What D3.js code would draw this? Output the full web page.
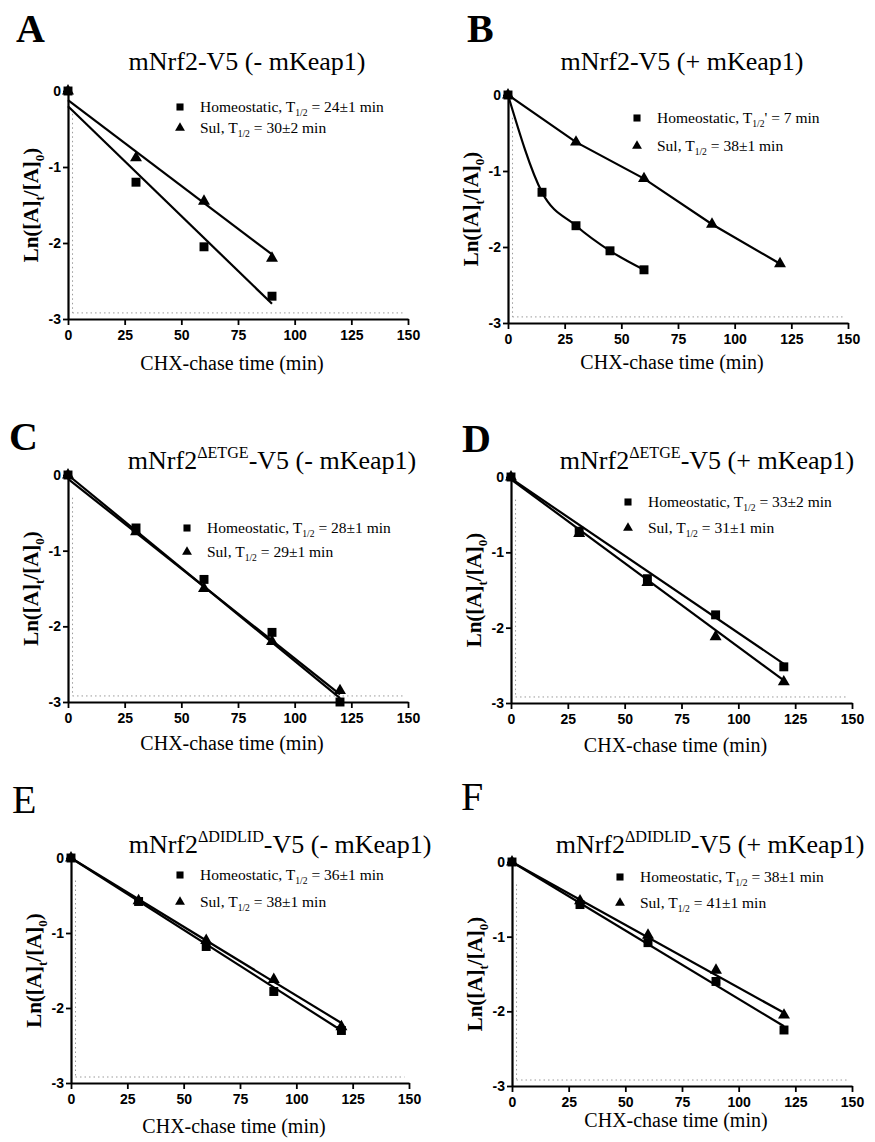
<!DOCTYPE html>
<html>
<head>
<meta charset="utf-8">
<script src="https://cdn.jsdelivr.net/npm/d3@7"></script>
<style>
  body { margin: 0; background: #fff; }
  svg { display: block; }
</style>
</head>
<body>
<script>
// shared axis values
const xTicks = [0, 25, 50, 75, 100, 125, 150];
const yTicks = [0, -1, -2, -3];

// A: mNrf2-V5 (- mKeap1)
const timesA = [0, 30, 60, 90];
const homeoA = [0, -1.2, -2.05, -2.7];
const sulA = [0, -0.88, -1.45, -2.2];
const homeoFitA = [[0, -0.2], [90, -2.8]];
const sulFitA = [[0, -0.12], [90, -2.15]];

// B: mNrf2-V5 (+ mKeap1)
const timesHomeoB = [0, 15, 30, 45, 60];
const homeoB = [0, -1.28, -1.72, -2.05, -2.3];
const timesSulB = [0, 30, 60, 90, 120];
const sulB = [0, -0.62, -1.1, -1.7, -2.22];

// C: mNrf2 dETGE (- mKeap1)
const timesC = [0, 30, 60, 90, 120];
const homeoC = [0, -0.7, -1.38, -2.08, -3.0];
const sulC = [0, -0.75, -1.5, -2.2, -2.85];
const homeoFitC = [[0, 0], [120, -2.95]];
const sulFitC = [[0, -0.05], [120, -2.9]];

// D: mNrf2 dETGE (+ mKeap1)
const timesD = [0, 30, 60, 90, 120];
const homeoD = [0, -0.72, -1.35, -1.83, -2.52];
const sulD = [0, -0.75, -1.4, -2.12, -2.72];
const homeoFitD = [[0, -0.02], [120, -2.48]];
const sulFitD = [[0, -0.03], [120, -2.7]];

// E: mNrf2 dDIDLID (- mKeap1)
const timesE = [0, 30, 60, 90, 120];
const homeoE = [0, -0.58, -1.18, -1.78, -2.3];
const sulE = [0, -0.57, -1.1, -1.62, -2.25];
const homeoFitE = [[0, 0], [120, -2.3]];
const sulFitE = [[0, 0], [120, -2.2]];

// F: mNrf2 dDIDLID (+ mKeap1)
const timesF = [0, 30, 60, 90, 120];
const homeoF = [0, -0.57, -1.08, -1.6, -2.25];
const sulF = [0, -0.52, -0.98, -1.45, -2.05];
const homeoFitF = [[0, 0], [120, -2.2]];
const sulFitF = [[0, 0], [120, -2.02]];

const legendHomeo = ["24±1 min", "7 min", "28±1 min", "33±2 min", "36±1 min", "38±1 min"];
const legendSul = ["30±2 min", "38±1 min", "29±1 min", "31±1 min", "38±1 min", "41±1 min"];

const zip = (xs, ys) => xs.map((t, i) => [t, ys[i]]);

const panels = [
  { label: "A", bold: true, title: [["mNrf2"], ["-V5 (- mKeap1)"]],
    box: { l: 68, r: 408, t: 91, b: 319 }, titleX: 247, titleY: 70, labelX: 16, labelY: 42,
    legX: 112, legY: 16, legGap: 21, xTitleDy: 51,
    homeo: zip(timesA, homeoA), sul: zip(timesA, sulA), homeoFit: homeoFitA, sulFit: sulFitA },
  { label: "B", bold: true, title: [["mNrf2"], ["-V5 (+ mKeap1)"]],
    box: { l: 508, r: 848, t: 95, b: 323 }, titleX: 682, titleY: 70, labelX: 467, labelY: 42,
    legX: 129, legY: 23, legGap: 28, xTitleDy: 46, prime: true,
    homeo: zip(timesHomeoB, homeoB), sul: zip(timesSulB, sulB), homeoCurve: true, sulCurve: true },
  { label: "C", bold: true, title: [["mNrf2"], ["ΔETGE", "sup"], ["-V5 (- mKeap1)"]],
    box: { l: 68, r: 408, t: 475, b: 702 }, titleX: 272, titleY: 469, labelX: 9, labelY: 450,
    legX: 119, legY: 53, legGap: 24, xTitleDy: 48,
    homeo: zip(timesC, homeoC), sul: zip(timesC, sulC), homeoFit: homeoFitC, sulFit: sulFitC },
  { label: "D", bold: true, title: [["mNrf2"], ["ΔETGE", "sup"], ["-V5 (+ mKeap1)"]],
    box: { l: 511, r: 852, t: 477, b: 703 }, titleX: 707, titleY: 469, labelX: 462, labelY: 452,
    legX: 117, legY: 25, legGap: 26, xTitleDy: 49,
    homeo: zip(timesD, homeoD), sul: zip(timesD, sulD), homeoFit: homeoFitD, sulFit: sulFitD },
  { label: "E", bold: false, title: [["mNrf2"], ["ΔDIDLID", "sup"], ["-V5 (- mKeap1)"]],
    box: { l: 71, r: 409, t: 858, b: 1083 }, titleX: 280, titleY: 853, labelX: 12, labelY: 813,
    legX: 109, legY: 17, legGap: 27, xTitleDy: 50,
    homeo: zip(timesE, homeoE), sul: zip(timesE, sulE), homeoFit: homeoFitE, sulFit: sulFitE },
  { label: "F", bold: false, title: [["mNrf2"], ["ΔDIDLID", "sup"], ["-V5 (+ mKeap1)"]],
    box: { l: 512, r: 852, t: 862, b: 1086 }, titleX: 710, titleY: 853, labelX: 461, labelY: 810,
    legX: 108, legY: 15, legGap: 26, xTitleDy: 41,
    homeo: zip(timesF, homeoF), sul: zip(timesF, sulF), homeoFit: homeoFitF, sulFit: sulFitF }
];

const SERIF = "'Liberation Serif', 'Times New Roman', serif";
const SANS = "'Liberation Sans', Arial, sans-serif";

const svg = d3.select("body").append("svg")
  .attr("width", 875)
  .attr("height", 1142);

// writes text made of pieces, some of them sub/superscript
function richText(textSel, parts, size) {
  let shift = 0;
  parts.forEach(([str, kind]) => {
    const target = kind === "sup" ? -0.42 * size : kind === "sub" ? 0.28 * size : 0;
    const ts = textSel.append("tspan")
      .attr("dy", target - shift)
      .text(str);
    if (kind) ts.style("font-size", (size * 0.62) + "px");
    shift = target;
  });
}

function drawPanel(p, idx) {
  const { l, r, t, b } = p.box;
  const x = d3.scaleLinear().domain([0, 150]).range([l, r]);
  const y = d3.scaleLinear().domain([-3, 0]).range([b, t]);

  // faint dotted guides from the print
  svg.append("line")
    .attr("x1", x(2)).attr("x2", x(2))
    .attr("y1", y(-0.3)).attr("y2", y(-2.92))
    .attr("stroke", "#9a9a9a").attr("stroke-width", 1).attr("stroke-dasharray", "1.5,3");
  svg.append("line")
    .attr("x1", x(2)).attr("x2", x(148))
    .attr("y1", y(-2.92)).attr("y2", y(-2.92))
    .attr("stroke", "#9a9a9a").attr("stroke-width", 1).attr("stroke-dasharray", "1.5,3");

  const xAxis = svg.append("g")
    .attr("transform", `translate(0,${b})`)
    .call(d3.axisBottom(x).tickValues(xTicks).tickSize(6).tickSizeOuter(0).tickPadding(5)
      .tickFormat(d => String(d)));
  const yAxis = svg.append("g")
    .attr("transform", `translate(${l},0)`)
    .call(d3.axisLeft(y).tickValues(yTicks).tickSize(5).tickSizeOuter(0).tickPadding(2)
      .tickFormat(d => String(d)));

  [xAxis, yAxis].forEach(a => {
    a.select(".domain").attr("stroke", "#000").attr("stroke-width", 2.2);
    a.selectAll(".tick line").attr("stroke", "#000").attr("stroke-width", 1.8);
    a.selectAll(".tick text")
      .style("font-family", SANS)
      .style("font-size", "14px")
      .style("font-weight", "bold")
      .attr("fill", "#000");
  });

  const line = d3.line().x(d => x(d[0])).y(d => y(d[1]));
  const curve = d3.line().x(d => x(d[0])).y(d => y(d[1])).curve(d3.curveMonotoneX);

  const homeoPath = p.homeoCurve ? curve(p.homeo) : line(p.homeoFit);
  const sulPath = p.sulCurve ? line(p.sul) : line(p.sulFit);
  [homeoPath, sulPath].forEach(dPath => {
    svg.append("path")
      .attr("d", dPath)
      .attr("fill", "none")
      .attr("stroke", "#000")
      .attr("stroke-width", 2.2);
  });

  const square = d3.symbol(d3.symbolSquare, 80);
  const triangle = d3.symbol(d3.symbolTriangle, 62);

  svg.append("g").selectAll("path")
    .data(p.sul)
    .join("path")
    .attr("transform", d => `translate(${x(d[0])},${y(d[1])})`)
    .attr("d", triangle)
    .attr("fill", "#000");

  svg.append("g").selectAll("path")
    .data(p.homeo)
    .join("path")
    .attr("transform", d => `translate(${x(d[0])},${y(d[1])})`)
    .attr("d", square)
    .attr("fill", "#000");

  // legend
  const lx = l + p.legX, ly = t + p.legY;
  svg.append("path").attr("transform", `translate(${lx},${ly})`)
    .attr("d", d3.symbol(d3.symbolSquare, 50)).attr("fill", "#000");
  svg.append("path").attr("transform", `translate(${lx},${ly + p.legGap})`)
    .attr("d", d3.symbol(d3.symbolTriangle, 42)).attr("fill", "#000");

  const legRows = [
    [["Homeostatic, T"], ["1/2", "sub"], [(p.prime ? "' = " : " = ") + legendHomeo[idx]]],
    [["Sul, T"], ["1/2", "sub"], [" = " + legendSul[idx]]]
  ];
  legRows.forEach((parts, i) => {
    const tx = svg.append("text")
      .attr("x", lx + 20)
      .attr("y", ly + i * p.legGap + 5)
      .style("font-family", SERIF)
      .style("font-size", "15.5px")
      .attr("fill", "#000");
    richText(tx, parts, 15.5);
  });

  // title
  const title = svg.append("text")
    .attr("x", p.titleX)
    .attr("y", p.titleY)
    .attr("text-anchor", "middle")
    .style("font-family", SERIF)
    .style("font-size", "26px")
    .attr("fill", "#000");
  richText(title, p.title, 26);

  // panel letter
  svg.append("text")
    .attr("x", p.labelX)
    .attr("y", p.labelY)
    .style("font-family", SERIF)
    .style("font-size", "40px")
    .style("font-weight", p.bold ? "bold" : "normal")
    .attr("fill", "#000")
    .text(p.label);

  // axis titles
  svg.append("text")
    .attr("x", (l + r) / 2 - 6)
    .attr("y", b + p.xTitleDy)
    .attr("text-anchor", "middle")
    .style("font-family", SERIF)
    .style("font-size", "20px")
    .attr("fill", "#000")
    .text("CHX-chase time (min)");

  const yt = svg.append("text")
    .attr("transform", `translate(${l - 30},${(t + b) / 2}) rotate(-90)`)
    .attr("text-anchor", "middle")
    .style("font-family", SERIF)
    .style("font-size", "21px")
    .style("font-weight", "bold")
    .attr("fill", "#000");
  richText(yt, [["Ln([A]"], ["t", "sub"], ["/[A]"], ["0", "sub"], [")"]], 21);
}

panels.forEach(drawPanel);
</script>
</body>
</html>
